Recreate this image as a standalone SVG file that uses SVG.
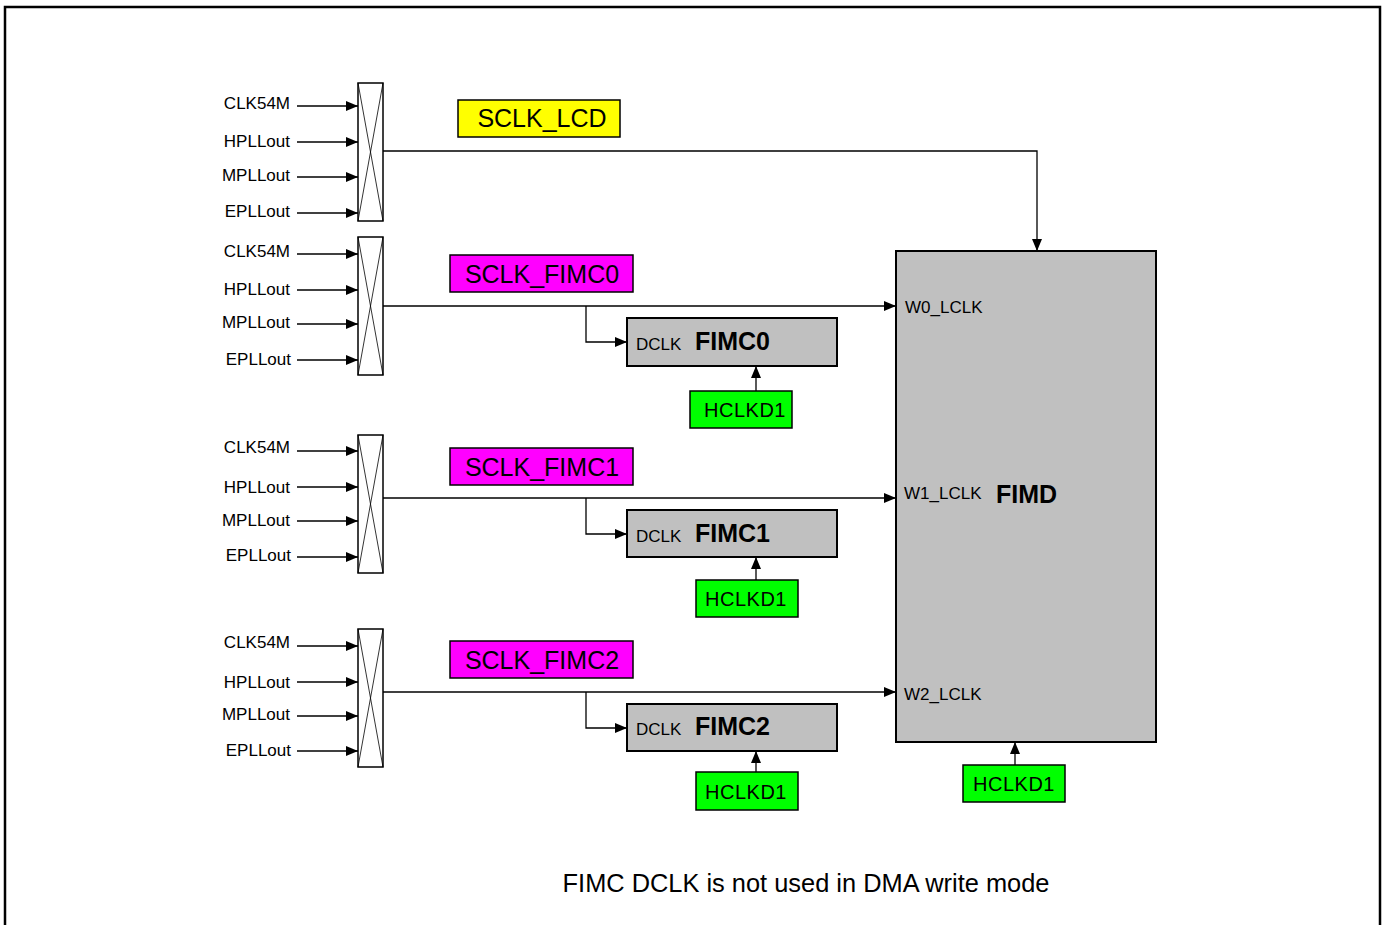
<svg xmlns="http://www.w3.org/2000/svg" width="1385" height="925" viewBox="0 0 1385 925">
<defs>
<marker id="ah" markerWidth="12" markerHeight="10" refX="12" refY="5" orient="auto" markerUnits="userSpaceOnUse"><path d="M0,0 L12,5 L0,10 Z" fill="#000"/></marker>
<g id="mux">
<rect x="0" y="0" width="25" height="138" fill="#fff" stroke="#000" stroke-width="1.5"/>
<path d="M0,0 L25,138 M25,0 L0,138" stroke="#000" stroke-width="0.8" fill="none"/>
</g>
</defs>
<style>
text{font-family:"Liberation Sans",Arial,sans-serif;fill:#000}
.in{font-size:17px;text-anchor:end}
.ln{stroke:#000;stroke-width:1.3;fill:none}
.sclk{font-size:25px;text-anchor:middle}
.blk{fill:#c0c0c0;stroke:#000;stroke-width:2}
.grn{fill:#00ff00;stroke:#000;stroke-width:1.5}
.hc{font-size:20px;text-anchor:middle;letter-spacing:0.5px}
.sm{font-size:17px}
.bold{font-size:25px;font-weight:bold}
</style>
<rect x="5" y="7" width="1375" height="930" fill="#fff" stroke="#000" stroke-width="2.5"/>

<g id="mux0">
<use href="#mux" x="358" y="83"/>
<text class="in" x="290" y="109">CLK54M</text>
<text class="in" x="290" y="147">HPLLout</text>
<text class="in" x="290" y="181">MPLLout</text>
<text class="in" x="290" y="217">EPLLout</text>
</g>
<g id="mux1">
<use href="#mux" x="358" y="237"/>
<text class="in" x="290" y="257">CLK54M</text>
<text class="in" x="290" y="295">HPLLout</text>
<text class="in" x="290" y="328">MPLLout</text>
<text class="in" x="291" y="365">EPLLout</text>
</g>
<g id="mux2">
<use href="#mux" x="358" y="435"/>
<text class="in" x="290" y="453">CLK54M</text>
<text class="in" x="290" y="493">HPLLout</text>
<text class="in" x="290" y="526">MPLLout</text>
<text class="in" x="291" y="561">EPLLout</text>
</g>
<g id="mux3">
<use href="#mux" x="358" y="629"/>
<text class="in" x="290" y="648">CLK54M</text>
<text class="in" x="290" y="688">HPLLout</text>
<text class="in" x="290" y="720">MPLLout</text>
<text class="in" x="291" y="756">EPLLout</text>
</g>

<g id="sclk_lcd"><rect x="458" y="100" width="162" height="37" fill="#ffff00" stroke="#000" stroke-width="1.5"/><text class="sclk" x="542" y="127">SCLK_LCD</text></g>
<g id="sclk_fimc0"><rect x="450" y="255" width="183" height="37" fill="#ff00ff" stroke="#000" stroke-width="1.5"/><text class="sclk" x="542" y="283">SCLK_FIMC0</text></g>
<g id="sclk_fimc1"><rect x="450" y="448" width="183" height="37" fill="#ff00ff" stroke="#000" stroke-width="1.5"/><text class="sclk" x="542" y="476">SCLK_FIMC1</text></g>
<g id="sclk_fimc2"><rect x="450" y="641" width="183" height="37" fill="#ff00ff" stroke="#000" stroke-width="1.5"/><text class="sclk" x="542" y="669">SCLK_FIMC2</text></g>

<g id="fimc0"><rect class="blk" x="627" y="318" width="210" height="48"/><text class="sm" x="636" y="350">DCLK</text><text class="bold" x="695" y="350">FIMC0</text></g>
<g id="fimc1"><rect class="blk" x="627" y="510" width="210" height="47"/><text class="sm" x="636" y="542">DCLK</text><text class="bold" x="695" y="542">FIMC1</text></g>
<g id="fimc2"><rect class="blk" x="627" y="704" width="210" height="47"/><text class="sm" x="636" y="735">DCLK</text><text class="bold" x="695" y="735">FIMC2</text></g>

<g id="hclk0"><rect class="grn" x="690" y="391" width="102" height="37"/><text class="hc" x="745" y="417">HCLKD1</text></g>
<g id="hclk1"><rect class="grn" x="696" y="580" width="102" height="37"/><text class="hc" x="746" y="606">HCLKD1</text></g>
<g id="hclk2"><rect class="grn" x="696" y="772" width="102" height="38"/><text class="hc" x="746" y="799">HCLKD1</text></g>
<g id="hclk3"><rect class="grn" x="963" y="765" width="102" height="37"/><text class="hc" x="1014" y="791">HCLKD1</text></g>

<g id="fimd"><rect class="blk" x="896" y="251" width="260" height="491"/>
<text class="sm" x="905" y="313">W0_LCLK</text>
<text class="sm" x="904" y="499">W1_LCLK</text>
<text class="bold" x="996" y="503">FIMD</text>
<text class="sm" x="904" y="700">W2_LCLK</text>
</g>

<g id="connectors">
<path class="ln" marker-end="url(#ah)" d="M297,106 H358"/>
<path class="ln" marker-end="url(#ah)" d="M297,142 H358"/>
<path class="ln" marker-end="url(#ah)" d="M297,177 H358"/>
<path class="ln" marker-end="url(#ah)" d="M297,213 H358"/>
<path class="ln" marker-end="url(#ah)" d="M297,254 H358"/>
<path class="ln" marker-end="url(#ah)" d="M297,290 H358"/>
<path class="ln" marker-end="url(#ah)" d="M297,324 H358"/>
<path class="ln" marker-end="url(#ah)" d="M297,360 H358"/>
<path class="ln" marker-end="url(#ah)" d="M297,451 H358"/>
<path class="ln" marker-end="url(#ah)" d="M297,487 H358"/>
<path class="ln" marker-end="url(#ah)" d="M297,521 H358"/>
<path class="ln" marker-end="url(#ah)" d="M297,557 H358"/>
<path class="ln" marker-end="url(#ah)" d="M297,646 H358"/>
<path class="ln" marker-end="url(#ah)" d="M297,682 H358"/>
<path class="ln" marker-end="url(#ah)" d="M297,716 H358"/>
<path class="ln" marker-end="url(#ah)" d="M297,751 H358"/>
<path class="ln" marker-end="url(#ah)" d="M383,151 H1037 V251"/>
<path class="ln" marker-end="url(#ah)" d="M383,306 H896"/>
<path class="ln" marker-end="url(#ah)" d="M586,306 V342 H627"/>
<path class="ln" marker-end="url(#ah)" d="M383,498 H896"/>
<path class="ln" marker-end="url(#ah)" d="M586,498 V534 H627"/>
<path class="ln" marker-end="url(#ah)" d="M383,692 H896"/>
<path class="ln" marker-end="url(#ah)" d="M586,692 V728 H627"/>
<path class="ln" marker-end="url(#ah)" d="M756,391 V366"/>
<path class="ln" marker-end="url(#ah)" d="M756,580 V557"/>
<path class="ln" marker-end="url(#ah)" d="M756,772 V751"/>
<path class="ln" marker-end="url(#ah)" d="M1015,765 V742"/>
</g>

<text x="806" y="892" font-size="25.4" text-anchor="middle">FIMC DCLK is not used in DMA write mode</text>
</svg>
